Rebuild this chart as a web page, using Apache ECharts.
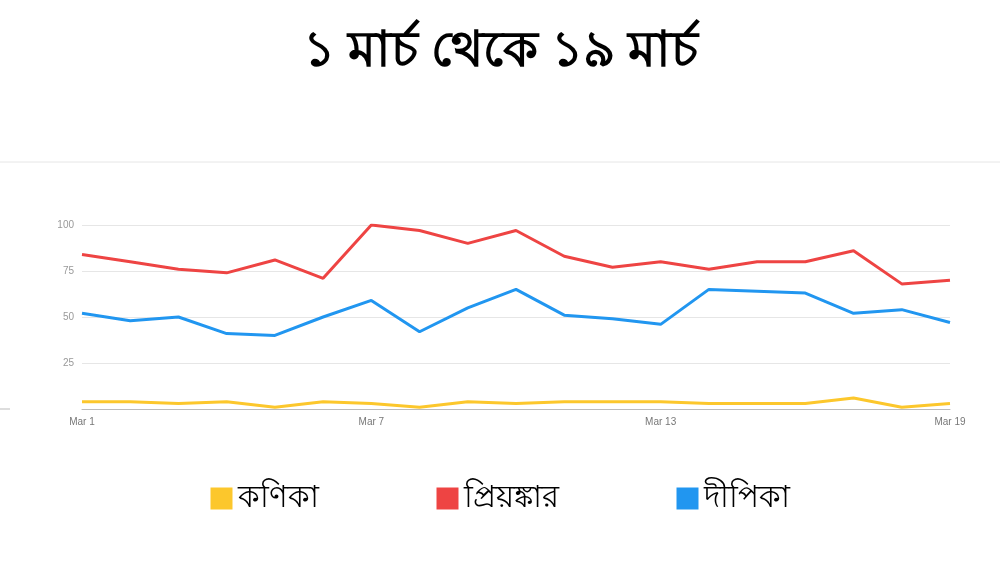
<!DOCTYPE html>
<html><head><meta charset="utf-8">
<script src="https://cdn.jsdelivr.net/npm/echarts@6/dist/echarts.min.js"></script>
<style>html,body{margin:0;background:#fff}#c{width:1000px;height:563px}</style>
</head><body><div id="c"></div>
<script>
const categories = ['Mar 1','Mar 2','Mar 3','Mar 4','Mar 5','Mar 6','Mar 7','Mar 8','Mar 9','Mar 10','Mar 11','Mar 12','Mar 13','Mar 14','Mar 15','Mar 16','Mar 17','Mar 18','Mar 19'];
const kanika = [4,4,3,4,1,4,3,1,4,3,4,4,4,3,3,3,6,1,3];
const priyanka = [84,80,76,74,81,71,100,97,90,97,83,77,80,76,80,80,86,68,70];
const dipika = [52,48,50,41,40,50,59,42,55,65,51,49,46,65,64,63,52,54,47];
const font = '"Noto Sans","Noto Sans CJK SC",sans-serif';
const chart = echarts.init(document.getElementById('c'));
chart.setOption({
  animation:false,
  title:{text:'১ মার্চ থেকে ১৯ মার্চ',left:'center',top:22,textStyle:{fontSize:50,fontWeight:'bold',color:'#000',fontFamily:font}},
  legend:{left:'center',bottom:44,itemWidth:22,itemHeight:22,itemGap:118,icon:'rect',textStyle:{fontSize:31,color:'#000',fontFamily:font},data:['কণিকা','প্রিয়ঙ্কার','দীপিকা']},
  graphic:[
    {type:'line',shape:{x1:0,y1:162,x2:1000,y2:162},style:{stroke:'#e6e6e6',lineWidth:1}},
    {type:'line',shape:{x1:0,y1:409,x2:10,y2:409},style:{stroke:'#bbb',lineWidth:1}}
  ],
  grid:{left:82,right:50,top:225,bottom:154},
  xAxis:{type:'category',data:categories,boundaryGap:false,
    axisLine:{lineStyle:{color:'#bbb'}},axisTick:{show:false},
    axisLabel:{fontSize:10,color:'#777',interval:(i)=>i%6===0}},
  yAxis:{type:'value',min:0,max:100,interval:25,
    axisLine:{show:false},axisTick:{show:false},
    axisLabel:{fontSize:10,color:'#999',formatter:v=>v===0?'':v},
    splitLine:{lineStyle:{color:'#e6e6e6'}}},
  series:[
    {name:'কণিকা',type:'line',data:kanika,symbol:'none',color:'#fcc72c',lineStyle:{width:3}},
    {name:'প্রিয়ঙ্কার',type:'line',data:priyanka,symbol:'none',color:'#ee4443',lineStyle:{width:3}},
    {name:'দীপিকা',type:'line',data:dipika,symbol:'none',color:'#2196f0',lineStyle:{width:3}}
  ]
});
</script></body></html>
